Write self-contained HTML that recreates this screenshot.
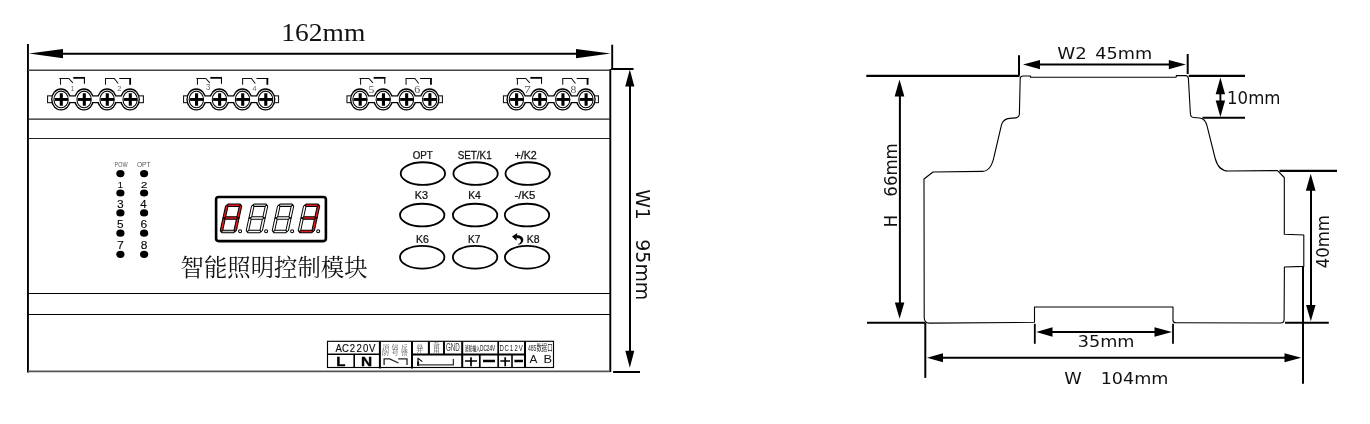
<!DOCTYPE html>
<html lang="zh">
<head>
<meta charset="utf-8">
<title>智能照明控制模块 尺寸图</title>
<style>
html,body{margin:0;padding:0;background:#fff;}
body{width:1370px;height:424px;overflow:hidden;}
svg{display:block;position:absolute;left:0;top:0;will-change:transform;}
text{white-space:pre;}
</style>
</head>
<body>
<svg width="1370" height="424" viewBox="0 0 1370 424">
<rect x="0" y="0" width="1370" height="424" fill="#fff"/>
<g id="left">
<line x1="27.95" y1="44" x2="27.95" y2="372.4" stroke="#000" stroke-width="1.9" />
<line x1="612.2" y1="44.7" x2="612.2" y2="70" stroke="#000" stroke-width="1.9" />
<line x1="610.3" y1="69" x2="610.3" y2="372" stroke="#000" stroke-width="1.9" />
<line x1="611.2" y1="69" x2="633.5" y2="69" stroke="#000" stroke-width="2" />
<line x1="613.1" y1="372" x2="640" y2="372" stroke="#000" stroke-width="2" />
<line x1="60" y1="53.8" x2="578" y2="53.8" stroke="#000" stroke-width="2" />
<polygon points="29.00,53.60 63.00,48.90 63.00,58.30" fill="#000" stroke="none" stroke-width="0"/>
<polygon points="610.50,53.60 576.00,58.20 576.00,49.00" fill="#000" stroke="none" stroke-width="0"/>
<line x1="630" y1="85" x2="630" y2="353" stroke="#000" stroke-width="2" />
<polygon points="629.80,69.60 634.40,86.60 625.20,86.60" fill="#000" stroke="none" stroke-width="0"/>
<polygon points="629.80,367.80 625.30,350.80 634.30,350.80" fill="#000" stroke="none" stroke-width="0"/>
<line x1="28" y1="70.2" x2="610" y2="70.2" stroke="#444" stroke-width="1.6" />
<line x1="28" y1="119.2" x2="610" y2="119.2" stroke="#222" stroke-width="1.2" />
<line x1="28" y1="138.5" x2="610" y2="138.5" stroke="#222" stroke-width="1.2" />
<line x1="28" y1="293.5" x2="610" y2="293.5" stroke="#000" stroke-width="1.1" />
<line x1="28" y1="314.5" x2="610" y2="314.5" stroke="#000" stroke-width="1.1" />
<line x1="28" y1="371.4" x2="610" y2="371.4" stroke="#555" stroke-width="1.8" />
<text transform="translate(281.26,40.90) scale(1.0491,1)" font-size="26.21" font-family='"Liberation Serif", "Noto Serif CJK SC", serif' fill="#111"  >162mm</text>
<text transform="translate(635.90,189.14) rotate(90) scale(0.9402,1)" font-size="20.14" font-family='"DejaVu Sans", "Liberation Sans", sans-serif' fill="#111"  >W1</text>
<text transform="translate(635.90,239.27) rotate(90) scale(0.9543,1)" font-size="19.86" font-family='"DejaVu Sans", "Liberation Sans", sans-serif' fill="#111"  >95mm</text>
<rect x="47.55" y="95.85" width="6" height="6.8" fill="#fff" stroke="#1a1a1a" stroke-width="1.1"/>
<rect x="137.40" y="95.85" width="6" height="6.8" fill="#fff" stroke="#1a1a1a" stroke-width="1.1"/>
<rect x="61.30" y="95.3" width="69.00" height="7.9" fill="#000"/>
<ellipse cx="61.00" cy="99.45" rx="9.9" ry="11.15" fill="#000"/>
<ellipse cx="84.00" cy="99.45" rx="9.9" ry="11.15" fill="#000"/>
<ellipse cx="107.00" cy="99.45" rx="9.9" ry="11.15" fill="#000"/>
<ellipse cx="130.00" cy="99.45" rx="9.9" ry="11.15" fill="#000"/>
<rect x="61.30" y="96.52" width="69.00" height="5.47" fill="#fff"/>
<ellipse cx="61.00" cy="99.45" rx="8.55" ry="9.8" fill="#fff"/>
<ellipse cx="84.00" cy="99.45" rx="8.55" ry="9.8" fill="#fff"/>
<ellipse cx="107.00" cy="99.45" rx="8.55" ry="9.8" fill="#fff"/>
<ellipse cx="130.00" cy="99.45" rx="8.55" ry="9.8" fill="#fff"/>
<ellipse cx="61.10" cy="99.45" rx="7.15" ry="8.3" fill="none" stroke="#000" stroke-width="1.05"/>
<path d="M54.80 99.45H68.00" stroke="#000" stroke-width="2.9" fill="none"/>
<path d="M61.30 93.25V105.75" stroke="#000" stroke-width="3.1" fill="none"/>
<ellipse cx="84.10" cy="99.45" rx="7.15" ry="8.3" fill="none" stroke="#000" stroke-width="1.05"/>
<path d="M77.80 99.45H91.00" stroke="#000" stroke-width="2.9" fill="none"/>
<path d="M84.30 93.25V105.75" stroke="#000" stroke-width="3.1" fill="none"/>
<ellipse cx="107.10" cy="99.45" rx="7.15" ry="8.3" fill="none" stroke="#000" stroke-width="1.05"/>
<path d="M100.80 99.45H114.00" stroke="#000" stroke-width="2.9" fill="none"/>
<path d="M107.30 93.25V105.75" stroke="#000" stroke-width="3.1" fill="none"/>
<ellipse cx="130.10" cy="99.45" rx="7.15" ry="8.3" fill="none" stroke="#000" stroke-width="1.05"/>
<path d="M123.80 99.45H137.00" stroke="#000" stroke-width="2.9" fill="none"/>
<path d="M130.30 93.25V105.75" stroke="#000" stroke-width="3.1" fill="none"/>
<path d="M60.50 84.8V78.5H68.80L72.90 82.9" stroke="#111" stroke-width="1.05" fill="none"/>
<path d="M59.40 78.5H61.40" stroke="#111" stroke-width="1.05" fill="none"/>
<path d="M73.30 77.85H85.00" stroke="#000" stroke-width="1.8" fill="none"/>
<path d="M84.45 77.1V83.8" stroke="#000" stroke-width="1.1" fill="none"/>
<path d="M105.50 84.8V78.5H114.30L118.20 83.5" stroke="#111" stroke-width="1.05" fill="none"/>
<path d="M119.30 78.5H131.10" stroke="#000" stroke-width="1.05" fill="none"/>
<path d="M130.15 78V84.8" stroke="#000" stroke-width="1.8" fill="none"/>
<text transform="translate(70.83,90.60) scale(0.8566,1)" font-size="7.25" font-family='"Liberation Sans", "Noto Sans CJK SC", sans-serif' fill="#666"  >1</text>
<text transform="translate(117.27,90.60) scale(1.0615,1)" font-size="7.14" font-family='"Liberation Sans", "Noto Sans CJK SC", sans-serif' fill="#666"  >2</text>
<rect x="183.55" y="95.85" width="6" height="6.8" fill="#fff" stroke="#1a1a1a" stroke-width="1.1"/>
<rect x="272.54" y="95.85" width="6" height="6.8" fill="#fff" stroke="#1a1a1a" stroke-width="1.1"/>
<rect x="196.55" y="95.3" width="69.24" height="7.9" fill="#000"/>
<ellipse cx="196.25" cy="99.45" rx="9.9" ry="11.15" fill="#000"/>
<ellipse cx="219.33" cy="99.45" rx="9.9" ry="11.15" fill="#000"/>
<ellipse cx="242.41" cy="99.45" rx="9.9" ry="11.15" fill="#000"/>
<ellipse cx="265.49" cy="99.45" rx="9.9" ry="11.15" fill="#000"/>
<rect x="196.55" y="96.52" width="69.24" height="5.47" fill="#fff"/>
<ellipse cx="196.25" cy="99.45" rx="8.55" ry="9.8" fill="#fff"/>
<ellipse cx="219.33" cy="99.45" rx="8.55" ry="9.8" fill="#fff"/>
<ellipse cx="242.41" cy="99.45" rx="8.55" ry="9.8" fill="#fff"/>
<ellipse cx="265.49" cy="99.45" rx="8.55" ry="9.8" fill="#fff"/>
<ellipse cx="196.35" cy="99.45" rx="7.15" ry="8.3" fill="none" stroke="#000" stroke-width="1.05"/>
<path d="M190.05 99.45H203.25" stroke="#000" stroke-width="2.9" fill="none"/>
<path d="M196.55 93.25V105.75" stroke="#000" stroke-width="3.1" fill="none"/>
<ellipse cx="219.43" cy="99.45" rx="7.15" ry="8.3" fill="none" stroke="#000" stroke-width="1.05"/>
<path d="M213.13 99.45H226.33" stroke="#000" stroke-width="2.9" fill="none"/>
<path d="M219.63 93.25V105.75" stroke="#000" stroke-width="3.1" fill="none"/>
<ellipse cx="242.51" cy="99.45" rx="7.15" ry="8.3" fill="none" stroke="#000" stroke-width="1.05"/>
<path d="M236.21 99.45H249.41" stroke="#000" stroke-width="2.9" fill="none"/>
<path d="M242.71 93.25V105.75" stroke="#000" stroke-width="3.1" fill="none"/>
<ellipse cx="265.59" cy="99.45" rx="7.15" ry="8.3" fill="none" stroke="#000" stroke-width="1.05"/>
<path d="M259.29 99.45H272.49" stroke="#000" stroke-width="2.9" fill="none"/>
<path d="M265.79 93.25V105.75" stroke="#000" stroke-width="3.1" fill="none"/>
<path d="M197.45 84.8V78.5H205.75L209.85 82.9" stroke="#111" stroke-width="1.05" fill="none"/>
<path d="M196.35 78.5H198.35" stroke="#111" stroke-width="1.05" fill="none"/>
<path d="M210.33 77.85H222.03" stroke="#000" stroke-width="1.8" fill="none"/>
<path d="M221.48 77.1V83.8" stroke="#000" stroke-width="1.1" fill="none"/>
<path d="M242.61 84.8V78.5H251.41L255.31 83.5" stroke="#111" stroke-width="1.05" fill="none"/>
<path d="M256.49 78.5H268.29" stroke="#000" stroke-width="1.05" fill="none"/>
<path d="M267.34 78V84.8" stroke="#000" stroke-width="1.8" fill="none"/>
<text transform="translate(205.88,90.30) scale(0.9825,1)" font-size="8.14" font-family='"Liberation Sans", "Noto Sans CJK SC", sans-serif' fill="#666"  >3</text>
<text transform="translate(252.46,90.50) scale(1.0038,1)" font-size="7.10" font-family='"Liberation Sans", "Noto Sans CJK SC", sans-serif' fill="#666"  >4</text>
<rect x="346.95" y="95.85" width="6" height="6.8" fill="#fff" stroke="#1a1a1a" stroke-width="1.1"/>
<rect x="436.44" y="95.85" width="6" height="6.8" fill="#fff" stroke="#1a1a1a" stroke-width="1.1"/>
<rect x="360.20" y="95.3" width="69.69" height="7.9" fill="#000"/>
<ellipse cx="359.90" cy="99.45" rx="9.9" ry="11.15" fill="#000"/>
<ellipse cx="383.13" cy="99.45" rx="9.9" ry="11.15" fill="#000"/>
<ellipse cx="406.36" cy="99.45" rx="9.9" ry="11.15" fill="#000"/>
<ellipse cx="429.59" cy="99.45" rx="9.9" ry="11.15" fill="#000"/>
<rect x="360.20" y="96.52" width="69.69" height="5.47" fill="#fff"/>
<ellipse cx="359.90" cy="99.45" rx="8.55" ry="9.8" fill="#fff"/>
<ellipse cx="383.13" cy="99.45" rx="8.55" ry="9.8" fill="#fff"/>
<ellipse cx="406.36" cy="99.45" rx="8.55" ry="9.8" fill="#fff"/>
<ellipse cx="429.59" cy="99.45" rx="8.55" ry="9.8" fill="#fff"/>
<ellipse cx="360.00" cy="99.45" rx="7.15" ry="8.3" fill="none" stroke="#000" stroke-width="1.05"/>
<path d="M353.70 99.45H366.90" stroke="#000" stroke-width="2.9" fill="none"/>
<path d="M360.20 93.25V105.75" stroke="#000" stroke-width="3.1" fill="none"/>
<ellipse cx="383.23" cy="99.45" rx="7.15" ry="8.3" fill="none" stroke="#000" stroke-width="1.05"/>
<path d="M376.93 99.45H390.13" stroke="#000" stroke-width="2.9" fill="none"/>
<path d="M383.43 93.25V105.75" stroke="#000" stroke-width="3.1" fill="none"/>
<ellipse cx="406.46" cy="99.45" rx="7.15" ry="8.3" fill="none" stroke="#000" stroke-width="1.05"/>
<path d="M400.16 99.45H413.36" stroke="#000" stroke-width="2.9" fill="none"/>
<path d="M406.66 93.25V105.75" stroke="#000" stroke-width="3.1" fill="none"/>
<ellipse cx="429.69" cy="99.45" rx="7.15" ry="8.3" fill="none" stroke="#000" stroke-width="1.05"/>
<path d="M423.39 99.45H436.59" stroke="#000" stroke-width="2.9" fill="none"/>
<path d="M429.89 93.25V105.75" stroke="#000" stroke-width="3.1" fill="none"/>
<path d="M360.60 84.8V78.5H368.90L373.00 82.9" stroke="#111" stroke-width="1.05" fill="none"/>
<path d="M359.50 78.5H361.50" stroke="#111" stroke-width="1.05" fill="none"/>
<path d="M373.63 77.85H385.33" stroke="#000" stroke-width="1.8" fill="none"/>
<path d="M384.78 77.1V83.8" stroke="#000" stroke-width="1.1" fill="none"/>
<path d="M406.06 84.8V78.5H414.86L418.76 83.5" stroke="#111" stroke-width="1.05" fill="none"/>
<path d="M420.09 78.5H431.89" stroke="#000" stroke-width="1.05" fill="none"/>
<path d="M430.94 78V84.8" stroke="#000" stroke-width="1.8" fill="none"/>
<text transform="translate(368.50,92.80) scale(1.1487,1)" font-size="10.23" font-family='"Liberation Serif", "Noto Serif CJK SC", serif' fill="#555"  >5</text>
<text transform="translate(414.23,92.80) scale(1.1683,1)" font-size="10.15" font-family='"Liberation Serif", "Noto Serif CJK SC", serif' fill="#555"  >6</text>
<rect x="503.45" y="95.85" width="6" height="6.8" fill="#fff" stroke="#1a1a1a" stroke-width="1.1"/>
<rect x="592.46" y="95.85" width="6" height="6.8" fill="#fff" stroke="#1a1a1a" stroke-width="1.1"/>
<rect x="516.60" y="95.3" width="69.51" height="7.9" fill="#000"/>
<ellipse cx="516.30" cy="99.45" rx="9.9" ry="11.15" fill="#000"/>
<ellipse cx="539.47" cy="99.45" rx="9.9" ry="11.15" fill="#000"/>
<ellipse cx="562.64" cy="99.45" rx="9.9" ry="11.15" fill="#000"/>
<ellipse cx="585.81" cy="99.45" rx="9.9" ry="11.15" fill="#000"/>
<rect x="516.60" y="96.52" width="69.51" height="5.47" fill="#fff"/>
<ellipse cx="516.30" cy="99.45" rx="8.55" ry="9.8" fill="#fff"/>
<ellipse cx="539.47" cy="99.45" rx="8.55" ry="9.8" fill="#fff"/>
<ellipse cx="562.64" cy="99.45" rx="8.55" ry="9.8" fill="#fff"/>
<ellipse cx="585.81" cy="99.45" rx="8.55" ry="9.8" fill="#fff"/>
<ellipse cx="516.40" cy="99.45" rx="7.15" ry="8.3" fill="none" stroke="#000" stroke-width="1.05"/>
<path d="M510.10 99.45H523.30" stroke="#000" stroke-width="2.9" fill="none"/>
<path d="M516.60 93.25V105.75" stroke="#000" stroke-width="3.1" fill="none"/>
<ellipse cx="539.57" cy="99.45" rx="7.15" ry="8.3" fill="none" stroke="#000" stroke-width="1.05"/>
<path d="M533.27 99.45H546.47" stroke="#000" stroke-width="2.9" fill="none"/>
<path d="M539.77 93.25V105.75" stroke="#000" stroke-width="3.1" fill="none"/>
<ellipse cx="562.74" cy="99.45" rx="7.15" ry="8.3" fill="none" stroke="#000" stroke-width="1.05"/>
<path d="M556.44 99.45H569.64" stroke="#000" stroke-width="2.9" fill="none"/>
<path d="M562.94 93.25V105.75" stroke="#000" stroke-width="3.1" fill="none"/>
<ellipse cx="585.91" cy="99.45" rx="7.15" ry="8.3" fill="none" stroke="#000" stroke-width="1.05"/>
<path d="M579.61 99.45H592.81" stroke="#000" stroke-width="2.9" fill="none"/>
<path d="M586.11 93.25V105.75" stroke="#000" stroke-width="3.1" fill="none"/>
<path d="M517.40 84.8V78.5H525.70L529.80 82.9" stroke="#111" stroke-width="1.05" fill="none"/>
<path d="M516.30 78.5H518.30" stroke="#111" stroke-width="1.05" fill="none"/>
<path d="M530.37 77.85H542.07" stroke="#000" stroke-width="1.8" fill="none"/>
<path d="M541.52 77.1V83.8" stroke="#000" stroke-width="1.1" fill="none"/>
<path d="M562.74 84.8V78.5H571.54L575.44 83.5" stroke="#111" stroke-width="1.05" fill="none"/>
<path d="M576.71 78.5H588.51" stroke="#000" stroke-width="1.05" fill="none"/>
<path d="M587.56 78V84.8" stroke="#000" stroke-width="1.8" fill="none"/>
<text transform="translate(524.15,92.80) scale(1.3187,1)" font-size="9.92" font-family='"Liberation Serif", "Noto Serif CJK SC", serif' fill="#555"  >7</text>
<text transform="translate(570.43,92.80) scale(1.1936,1)" font-size="9.77" font-family='"Liberation Serif", "Noto Serif CJK SC", serif' fill="#555"  >8</text>
<ellipse cx="120.4" cy="173.6" rx="4.1" ry="3.6" fill="#000"/>
<ellipse cx="120.4" cy="193.0" rx="4.1" ry="3.6" fill="#000"/>
<ellipse cx="120.4" cy="212.9" rx="4.1" ry="3.6" fill="#000"/>
<ellipse cx="120.4" cy="233.2" rx="4.1" ry="3.6" fill="#000"/>
<ellipse cx="120.4" cy="254.3" rx="4.1" ry="3.6" fill="#000"/>
<ellipse cx="144.1" cy="173.6" rx="4.1" ry="3.6" fill="#000"/>
<ellipse cx="144.1" cy="193.0" rx="4.1" ry="3.6" fill="#000"/>
<ellipse cx="144.1" cy="212.9" rx="4.1" ry="3.6" fill="#000"/>
<ellipse cx="144.1" cy="233.2" rx="4.1" ry="3.6" fill="#000"/>
<ellipse cx="144.1" cy="254.3" rx="4.1" ry="3.6" fill="#000"/>
<text transform="translate(114.57,167.20) scale(0.7909,1)" font-size="6.86" font-family='"Liberation Sans", "Noto Sans CJK SC", sans-serif' fill="#555"  >POW</text>
<text transform="translate(136.90,167.20) scale(0.9600,1)" font-size="6.86" font-family='"Liberation Sans", "Noto Sans CJK SC", sans-serif' fill="#555"  >OPT</text>
<text transform="translate(117.69,187.60) scale(0.9707,1)" font-size="9.71" font-family='"Liberation Sans", "Noto Sans CJK SC", sans-serif' fill="#000"  stroke="#000" stroke-width="0.1">1</text>
<text transform="translate(140.80,187.60) scale(1.2449,1)" font-size="9.71" font-family='"Liberation Sans", "Noto Sans CJK SC", sans-serif' fill="#000"  stroke="#000" stroke-width="0.1">2</text>
<text transform="translate(116.92,207.70) scale(1.1829,1)" font-size="10.14" font-family='"Liberation Sans", "Noto Sans CJK SC", sans-serif' fill="#000"  stroke="#000" stroke-width="0.1">3</text>
<text transform="translate(140.17,207.70) scale(1.1321,1)" font-size="10.14" font-family='"Liberation Sans", "Noto Sans CJK SC", sans-serif' fill="#000"  stroke="#000" stroke-width="0.1">4</text>
<text transform="translate(117.03,227.90) scale(1.1621,1)" font-size="10.14" font-family='"Liberation Sans", "Noto Sans CJK SC", sans-serif' fill="#000"  stroke="#000" stroke-width="0.1">5</text>
<text transform="translate(140.60,227.90) scale(1.1871,1)" font-size="10.14" font-family='"Liberation Sans", "Noto Sans CJK SC", sans-serif' fill="#000"  stroke="#000" stroke-width="0.1">6</text>
<text transform="translate(116.88,248.70) scale(1.2132,1)" font-size="10.14" font-family='"Liberation Sans", "Noto Sans CJK SC", sans-serif' fill="#000"  stroke="#000" stroke-width="0.1">7</text>
<text transform="translate(140.66,248.70) scale(1.1745,1)" font-size="10.14" font-family='"Liberation Sans", "Noto Sans CJK SC", sans-serif' fill="#000"  stroke="#000" stroke-width="0.1">8</text>
<rect x="216.1" y="197.0" width="109.8" height="44.1" rx="2.5" ry="2.5" fill="#fff" stroke="#000" stroke-width="2.6"/>
<g transform="translate(219.75,232.8) skewX(-12.2) translate(0,-28.9)">
<polygon points="2.30,0.00 13.90,0.00 15.05,1.15 13.70,2.50 2.50,2.50 1.15,1.15" fill="#e3191c" stroke="#000" stroke-width="1" stroke-linejoin="round"/>
<polygon points="2.30,28.90 13.90,28.90 15.05,27.75 13.70,26.40 2.50,26.40 1.15,27.75" fill="#bdbdbd" stroke="#000" stroke-width="1" stroke-linejoin="round"/>
<polygon points="0.75,14.15 2.50,12.90 13.70,12.90 15.45,14.15 13.70,15.40 2.50,15.40" fill="#e3191c" stroke="#000" stroke-width="1" stroke-linejoin="round"/>
<polygon points="0.00,2.30 1.15,1.15 2.50,2.50 2.50,12.90 0.75,14.15 0.00,14.15" fill="#e3191c" stroke="#000" stroke-width="1" stroke-linejoin="round"/>
<polygon points="0.00,14.15 0.75,14.15 2.50,15.40 2.50,26.40 1.15,27.75 0.00,26.60" fill="#e3191c" stroke="#000" stroke-width="1" stroke-linejoin="round"/>
<polygon points="16.20,2.30 15.05,1.15 13.70,2.50 13.70,12.90 15.45,14.15 16.20,14.15" fill="#e3191c" stroke="#000" stroke-width="1" stroke-linejoin="round"/>
<polygon points="16.20,14.15 15.45,14.15 13.70,15.40 13.70,26.40 15.05,27.75 16.20,26.60" fill="#e3191c" stroke="#000" stroke-width="1" stroke-linejoin="round"/>
</g>
<g transform="translate(245.75,232.8) skewX(-12.2) translate(0,-28.9)">
<polygon points="2.30,0.00 13.90,0.00 15.05,1.15 13.70,2.50 2.50,2.50 1.15,1.15" fill="#bdbdbd" stroke="#000" stroke-width="1" stroke-linejoin="round"/>
<polygon points="2.30,28.90 13.90,28.90 15.05,27.75 13.70,26.40 2.50,26.40 1.15,27.75" fill="#fff" stroke="#000" stroke-width="1" stroke-linejoin="round"/>
<polygon points="0.75,14.15 2.50,12.90 13.70,12.90 15.45,14.15 13.70,15.40 2.50,15.40" fill="#fff" stroke="#000" stroke-width="1" stroke-linejoin="round"/>
<polygon points="0.00,2.30 1.15,1.15 2.50,2.50 2.50,12.90 0.75,14.15 0.00,14.15" fill="#fff" stroke="#000" stroke-width="1" stroke-linejoin="round"/>
<polygon points="0.00,14.15 0.75,14.15 2.50,15.40 2.50,26.40 1.15,27.75 0.00,26.60" fill="#fff" stroke="#000" stroke-width="1" stroke-linejoin="round"/>
<polygon points="16.20,2.30 15.05,1.15 13.70,2.50 13.70,12.90 15.45,14.15 16.20,14.15" fill="#fff" stroke="#000" stroke-width="1" stroke-linejoin="round"/>
<polygon points="16.20,14.15 15.45,14.15 13.70,15.40 13.70,26.40 15.05,27.75 16.20,26.60" fill="#fff" stroke="#000" stroke-width="1" stroke-linejoin="round"/>
</g>
<g transform="translate(271.75,232.8) skewX(-12.2) translate(0,-28.9)">
<polygon points="2.30,0.00 13.90,0.00 15.05,1.15 13.70,2.50 2.50,2.50 1.15,1.15" fill="#bdbdbd" stroke="#000" stroke-width="1" stroke-linejoin="round"/>
<polygon points="2.30,28.90 13.90,28.90 15.05,27.75 13.70,26.40 2.50,26.40 1.15,27.75" fill="#fff" stroke="#000" stroke-width="1" stroke-linejoin="round"/>
<polygon points="0.75,14.15 2.50,12.90 13.70,12.90 15.45,14.15 13.70,15.40 2.50,15.40" fill="#fff" stroke="#000" stroke-width="1" stroke-linejoin="round"/>
<polygon points="0.00,2.30 1.15,1.15 2.50,2.50 2.50,12.90 0.75,14.15 0.00,14.15" fill="#fff" stroke="#000" stroke-width="1" stroke-linejoin="round"/>
<polygon points="0.00,14.15 0.75,14.15 2.50,15.40 2.50,26.40 1.15,27.75 0.00,26.60" fill="#fff" stroke="#000" stroke-width="1" stroke-linejoin="round"/>
<polygon points="16.20,2.30 15.05,1.15 13.70,2.50 13.70,12.90 15.45,14.15 16.20,14.15" fill="#fff" stroke="#000" stroke-width="1" stroke-linejoin="round"/>
<polygon points="16.20,14.15 15.45,14.15 13.70,15.40 13.70,26.40 15.05,27.75 16.20,26.60" fill="#fff" stroke="#000" stroke-width="1" stroke-linejoin="round"/>
</g>
<g transform="translate(297.75,232.8) skewX(-12.2) translate(0,-28.9)">
<polygon points="2.30,0.00 13.90,0.00 15.05,1.15 13.70,2.50 2.50,2.50 1.15,1.15" fill="#e3191c" stroke="#000" stroke-width="1" stroke-linejoin="round"/>
<polygon points="2.30,28.90 13.90,28.90 15.05,27.75 13.70,26.40 2.50,26.40 1.15,27.75" fill="#e3191c" stroke="#000" stroke-width="1" stroke-linejoin="round"/>
<polygon points="0.75,14.15 2.50,12.90 13.70,12.90 15.45,14.15 13.70,15.40 2.50,15.40" fill="#e3191c" stroke="#000" stroke-width="1" stroke-linejoin="round"/>
<polygon points="0.00,2.30 1.15,1.15 2.50,2.50 2.50,12.90 0.75,14.15 0.00,14.15" fill="#fff" stroke="#000" stroke-width="1" stroke-linejoin="round"/>
<polygon points="0.00,14.15 0.75,14.15 2.50,15.40 2.50,26.40 1.15,27.75 0.00,26.60" fill="#fff" stroke="#000" stroke-width="1" stroke-linejoin="round"/>
<polygon points="16.20,2.30 15.05,1.15 13.70,2.50 13.70,12.90 15.45,14.15 16.20,14.15" fill="#e3191c" stroke="#000" stroke-width="1" stroke-linejoin="round"/>
<polygon points="16.20,14.15 15.45,14.15 13.70,15.40 13.70,26.40 15.05,27.75 16.20,26.60" fill="#e3191c" stroke="#000" stroke-width="1" stroke-linejoin="round"/>
</g>
<circle cx="240.10" cy="231.3" r="1.5" fill="#fff" stroke="#000" stroke-width="1.05"/>
<circle cx="266.13" cy="231.3" r="1.5" fill="#fff" stroke="#000" stroke-width="1.05"/>
<circle cx="292.16" cy="231.3" r="1.5" fill="#fff" stroke="#000" stroke-width="1.05"/>
<circle cx="318.19" cy="231.3" r="1.5" fill="#fff" stroke="#000" stroke-width="1.05"/>
<text x="180.6" y="276.2" font-size="23.4" font-family='"Liberation Serif", "Noto Serif CJK SC", serif' fill="#111" text-anchor="start"  textLength="187" lengthAdjust="spacing">智能照明控制模块</text>
<ellipse cx="422.9" cy="173.6" rx="22.2" ry="11.35" fill="#fff" stroke="#000" stroke-width="1.8"/>
<ellipse cx="475.6" cy="173.6" rx="22.2" ry="11.35" fill="#fff" stroke="#000" stroke-width="1.8"/>
<ellipse cx="527.7" cy="173.6" rx="22.2" ry="11.35" fill="#fff" stroke="#000" stroke-width="1.8"/>
<ellipse cx="422.2" cy="215.1" rx="22.2" ry="11.35" fill="#fff" stroke="#000" stroke-width="1.8"/>
<ellipse cx="475.1" cy="215.1" rx="22.2" ry="11.35" fill="#fff" stroke="#000" stroke-width="1.8"/>
<ellipse cx="527.0" cy="215.1" rx="22.2" ry="11.35" fill="#fff" stroke="#000" stroke-width="1.8"/>
<ellipse cx="422.2" cy="257.2" rx="22.2" ry="11.35" fill="#fff" stroke="#000" stroke-width="1.8"/>
<ellipse cx="475.1" cy="257.2" rx="22.2" ry="11.35" fill="#fff" stroke="#000" stroke-width="1.8"/>
<ellipse cx="527.1" cy="257.2" rx="22.2" ry="11.35" fill="#fff" stroke="#000" stroke-width="1.8"/>
<text transform="translate(412.66,158.75) scale(0.9413,1)" font-size="10.36" font-family='"Liberation Sans", "Noto Sans CJK SC", sans-serif' fill="#111"  stroke="#111" stroke-width="0.25">OPT</text>
<text transform="translate(457.66,158.75) scale(0.9540,1)" font-size="10.36" font-family='"Liberation Sans", "Noto Sans CJK SC", sans-serif' fill="#111"  stroke="#111" stroke-width="0.25">SET/K1</text>
<text transform="translate(514.46,158.75) scale(1.0336,1)" font-size="10.36" font-family='"Liberation Sans", "Noto Sans CJK SC", sans-serif' fill="#111"  stroke="#111" stroke-width="0.25">+/K2</text>
<text transform="translate(414.73,199.40) scale(1.0097,1)" font-size="10.71" font-family='"Liberation Sans", "Noto Sans CJK SC", sans-serif' fill="#111"  stroke="#111" stroke-width="0.25">K3</text>
<text transform="translate(468.17,199.40) scale(0.9532,1)" font-size="10.87" font-family='"Liberation Sans", "Noto Sans CJK SC", sans-serif' fill="#111"  stroke="#111" stroke-width="0.25">K4</text>
<text transform="translate(514.49,199.40) scale(1.0514,1)" font-size="10.87" font-family='"Liberation Sans", "Noto Sans CJK SC", sans-serif' fill="#111"  stroke="#111" stroke-width="0.25">-/K5</text>
<text transform="translate(416.06,243.10) scale(0.9842,1)" font-size="10.71" font-family='"Liberation Sans", "Noto Sans CJK SC", sans-serif' fill="#111"  stroke="#111" stroke-width="0.25">K6</text>
<text transform="translate(467.94,243.10) scale(0.9284,1)" font-size="10.87" font-family='"Liberation Sans", "Noto Sans CJK SC", sans-serif' fill="#111"  stroke="#111" stroke-width="0.25">K7</text>
<text transform="translate(526.66,243.10) scale(0.9758,1)" font-size="10.71" font-family='"Liberation Sans", "Noto Sans CJK SC", sans-serif' fill="#111"  stroke="#111" stroke-width="0.25">K8</text>
<path d="M516.9 235.2C520.5 235.2 523.4 237.2 523.3 240C523.2 242.8 521 244.2 518.4 244.7L518.1 244C520.2 243.2 521 241.8 520.9 240.4C520.8 238.6 519 237.8 516.6 237.9Z" fill="#000"/>
<polygon points="512,236.6 517.3,233.1 516.4,240.8" fill="#000"/>
<rect x="327.5" y="341.3" width="226" height="26.19999999999999" fill="#fff" stroke="#000" stroke-width="1.15"/>
<line x1="379.9" y1="341.3" x2="379.9" y2="368.4" stroke="#000" stroke-width="2" />
<line x1="412" y1="341.3" x2="412" y2="368.4" stroke="#000" stroke-width="2" />
<line x1="462.2" y1="341.3" x2="462.2" y2="367.5" stroke="#000" stroke-width="2" />
<line x1="498.2" y1="341.3" x2="498.2" y2="367.5" stroke="#000" stroke-width="1.7" />
<line x1="525" y1="341.3" x2="525" y2="367.5" stroke="#000" stroke-width="2" />
<line x1="354.2" y1="354.5" x2="354.2" y2="367.5" stroke="#000" stroke-width="1.6" />
<line x1="428.9" y1="341.3" x2="428.9" y2="354.5" stroke="#000" stroke-width="2" />
<line x1="444" y1="341.3" x2="444" y2="354.5" stroke="#000" stroke-width="1.9" />
<line x1="479.8" y1="354.5" x2="479.8" y2="367.5" stroke="#000" stroke-width="1.7" />
<line x1="512" y1="354.5" x2="512" y2="367.5" stroke="#000" stroke-width="1.6" />
<line x1="327.4" y1="354.2" x2="379.9" y2="354.2" stroke="#000" stroke-width="1.5" />
<line x1="412" y1="354.6" x2="525" y2="354.6" stroke="#000" stroke-width="2" />
<text transform="scale(0.8359,1)" fill="#000" stroke="#000" stroke-width="0.12"><tspan x="401.43" y="352.40" font-size="11.48" font-family='"Liberation Sans", "Noto Sans CJK SC", sans-serif' >A</tspan><tspan x="409.22" y="352.40" font-size="11.48" font-family='"Liberation Sans", "Noto Sans CJK SC", sans-serif' >C</tspan><tspan x="418.51" y="352.40" font-size="11.48" font-family='"Liberation Sans", "Noto Sans CJK SC", sans-serif' >2</tspan><tspan x="426.59" y="352.40" font-size="11.48" font-family='"Liberation Sans", "Noto Sans CJK SC", sans-serif' >2</tspan><tspan x="434.39" y="352.40" font-size="11.48" font-family='"Liberation Sans", "Noto Sans CJK SC", sans-serif' >0</tspan><tspan x="441.45" y="352.40" font-size="11.48" font-family='"Liberation Sans", "Noto Sans CJK SC", sans-serif' >V</tspan></text>
<text transform="translate(336.27,366.25) scale(1.1105,1)" font-size="13.55" font-family='"Liberation Sans", "Noto Sans CJK SC", sans-serif' fill="#000" font-weight="bold" stroke="#000" stroke-width="0.4">L</text>
<text transform="translate(360.90,366.25) scale(1.1382,1)" font-size="13.55" font-family='"Liberation Sans", "Noto Sans CJK SC", sans-serif' fill="#000" font-weight="bold" stroke="#000" stroke-width="0.4">N</text>
<text transform="scale(1.1822,1)" fill="#555" ><tspan x="323.35" y="349.10" font-size="6.21" font-family='"Liberation Serif", "Noto Serif CJK SC", serif' >消</tspan><tspan x="323.13" y="355.10" font-size="6.21" font-family='"Liberation Serif", "Noto Serif CJK SC", serif' >防</tspan></text>
<text transform="scale(1.1373,1)" fill="#555" ><tspan x="344.29" y="349.11" font-size="6.11" font-family='"Liberation Serif", "Noto Serif CJK SC", serif' >信</tspan><tspan x="344.22" y="355.10" font-size="6.28" font-family='"Liberation Serif", "Noto Serif CJK SC", serif' >号</tspan></text>
<text transform="scale(1.1220,1)" fill="#555" ><tspan x="357.32" y="349.10" font-size="6.20" font-family='"Liberation Serif", "Noto Serif CJK SC", serif' >反</tspan><tspan x="357.35" y="355.10" font-size="6.20" font-family='"Liberation Serif", "Noto Serif CJK SC", serif' >馈</tspan></text>
<path d="M384.1 365.1V358.9H389.7L398.5 363M398.2 358.9H407V365.1" fill="none" stroke="#222" stroke-width="1.3"/>
<text transform="scale(1.4156,1)" fill="#555" ><tspan x="294.06" y="347.82" font-size="5.05" font-family='"Liberation Serif", "Noto Serif CJK SC", serif' >总</tspan><tspan x="294.09" y="352.41" font-size="4.86" font-family='"Liberation Serif", "Noto Serif CJK SC", serif' >开</tspan></text>
<text transform="scale(1.2314,1)" fill="#555" ><tspan x="351.59" y="347.36" font-size="5.53" font-family='"Liberation Serif", "Noto Serif CJK SC", serif' >备</tspan><tspan x="351.72" y="352.65" font-size="5.63" font-family='"Liberation Serif", "Noto Serif CJK SC", serif' >用</tspan></text>
<text transform="translate(445.94,351.00) scale(0.6188,1)" font-size="10.00" font-family='"Liberation Sans", "Noto Sans CJK SC", sans-serif' fill="#333"  >GND</text>
<path d="M418.1 361.6V365.9" fill="none" stroke="#000" stroke-width="2"/>
<path d="M418 357.8V362M418.5 358.6L422.3 361.6" fill="none" stroke="#000" stroke-width="1.15"/>
<path d="M418.2 364.8H453.4V359" fill="none" stroke="#333" stroke-width="1.3"/>
<text transform="scale(0.5269,1)" fill="#383838" stroke="#383838" stroke-width="0.15"><tspan x="882.20" y="350.88" font-size="7.26" font-family='"Liberation Sans", "Noto Sans CJK SC", sans-serif' >消防输入</tspan><tspan x="911.00" y="351.25" font-size="8.99" font-family='"Liberation Sans", "Noto Sans CJK SC", sans-serif' >DC24V</tspan></text>
<text transform="scale(0.6751,1)" fill="#222" ><tspan x="740.03" y="351.10" font-size="8.93" font-family='"Liberation Sans", "Noto Sans CJK SC", sans-serif' >D</tspan><tspan x="747.34" y="351.10" font-size="8.93" font-family='"Liberation Sans", "Noto Sans CJK SC", sans-serif' >C</tspan><tspan x="755.12" y="351.10" font-size="8.93" font-family='"Liberation Sans", "Noto Sans CJK SC", sans-serif' >1</tspan><tspan x="762.22" y="351.10" font-size="8.93" font-family='"Liberation Sans", "Noto Sans CJK SC", sans-serif' >2</tspan><tspan x="768.39" y="351.10" font-size="8.93" font-family='"Liberation Sans", "Noto Sans CJK SC", sans-serif' >V</tspan></text>
<text transform="scale(0.5936,1)" fill="#2a2a2a" ><tspan x="889.49" y="351.40" font-size="8.50" font-family='"Liberation Sans", "Noto Sans CJK SC", sans-serif' >485</tspan><tspan x="903.61" y="350.93" font-size="9.09" font-family='"Liberation Sans", "Noto Sans CJK SC", sans-serif' >数据口</tspan></text>
<path d="M465 361H477M471 357.2V366.3" stroke="#000" stroke-width="1.7" fill="none"/>
<path d="M483 361H495" stroke="#000" stroke-width="2.5" fill="none"/>
<path d="M500.3 361H510M505.2 357.2V366.3" stroke="#000" stroke-width="1.7" fill="none"/>
<path d="M514.4 361H523" stroke="#000" stroke-width="2.5" fill="none"/>
<text transform="translate(529.40,363.10) scale(1.1472,1)" font-size="10.29" font-family='"Liberation Sans", "Noto Sans CJK SC", sans-serif' fill="#111"  >A</text>
<text transform="translate(543.38,363.10) scale(1.2443,1)" font-size="10.29" font-family='"Liberation Sans", "Noto Sans CJK SC", sans-serif' fill="#111"  >B</text>
</g>
<g id="right">
<path d="M1176.3 77.2 H1030.4 V76 H1023 Q1020.3 76 1020.2 78.6 L1019.4 113.6 Q1019.3 117.6 1015.6 117.9 L1009.6 118.4 Q1003.6 118.9 1001.6 124.4 L994.2 156 Q991.2 171.2 982.4 171.4 L933 172 L924 179 L924.2 317.6 Q924.3 323.1 929.3 323.1 L1034.5 322.3 V307 H1173 V320.2 Q1173 322.8 1176 322.8 L1280.8 323 Q1284 323 1284.1 319.6 L1284.4 267 L1303.8 266.4 V235 L1284.3 234.2 V177.5 L1277.5 170.6 L1228 171 Q1218.6 170.9 1215.2 158.5 L1207.1 126.2 Q1205.2 118.4 1199.8 118 L1193.6 117.5 Q1190.6 117.3 1190.4 113.8 L1188.4 78.6 Q1188.3 75.6 1185.4 75.6 H1176.3 V77.2" fill="none" stroke="#000" stroke-width="1.1" stroke-linejoin="round"/>
<line x1="866.3" y1="75.9" x2="1019.5" y2="75.9" stroke="#000" stroke-width="2.1" />
<line x1="1188.8" y1="75.9" x2="1245" y2="75.9" stroke="#000" stroke-width="2.1" />
<line x1="1202.5" y1="117.8" x2="1245" y2="117.8" stroke="#000" stroke-width="2.1" />
<line x1="1279.5" y1="170.85" x2="1337" y2="170.85" stroke="#000" stroke-width="2.1" />
<line x1="867" y1="322.8" x2="925.5" y2="322.8" stroke="#000" stroke-width="2.1" />
<line x1="1285" y1="322.8" x2="1328.8" y2="322.8" stroke="#000" stroke-width="2.1" />
<line x1="1019" y1="55.2" x2="1019" y2="75.6" stroke="#000" stroke-width="2" />
<line x1="1187.7" y1="54" x2="1187.7" y2="74" stroke="#000" stroke-width="2" />
<line x1="925.3" y1="322.8" x2="925.3" y2="377.9" stroke="#000" stroke-width="2" />
<line x1="1303" y1="267" x2="1303" y2="383.8" stroke="#000" stroke-width="2" />
<line x1="1034.8" y1="323.8" x2="1034.8" y2="343.8" stroke="#000" stroke-width="1.8" />
<line x1="1173" y1="323.8" x2="1173" y2="343.8" stroke="#000" stroke-width="1.8" />
<line x1="1038" y1="64.6" x2="1170" y2="64.6" stroke="#000" stroke-width="2" />
<polygon points="1023.00,64.60 1040.00,60.00 1040.00,69.20" fill="#000" stroke="none" stroke-width="0"/>
<polygon points="1185.80,64.60 1168.80,69.20 1168.80,60.00" fill="#000" stroke="none" stroke-width="0"/>
<text transform="translate(1057.36,59.20) scale(1.1406,1)" font-size="15.95" font-family='"DejaVu Sans", "Liberation Sans", sans-serif' fill="#111"  >W2</text>
<text transform="translate(1095.32,59.20) scale(1.0949,1)" font-size="16.16" font-family='"DejaVu Sans", "Liberation Sans", sans-serif' fill="#111"  >45mm</text>
<line x1="1220.4" y1="92" x2="1220.4" y2="103" stroke="#000" stroke-width="1.9" />
<polygon points="1220.40,77.50 1225.10,94.30 1215.70,94.30" fill="#000" stroke="none" stroke-width="0"/>
<polygon points="1220.40,117.00 1215.70,100.40 1225.10,100.40" fill="#000" stroke="none" stroke-width="0"/>
<text transform="translate(1227.07,103.80) scale(0.9520,1)" font-size="17.43" font-family='"DejaVu Sans", "Liberation Sans", sans-serif' fill="#111"  >10mm</text>
<line x1="899.9" y1="95" x2="899.9" y2="304" stroke="#000" stroke-width="2" />
<polygon points="899.50,79.60 904.35,96.40 894.65,96.40" fill="#000" stroke="none" stroke-width="0"/>
<polygon points="899.60,318.80 894.85,302.50 904.35,302.50" fill="#000" stroke="none" stroke-width="0"/>
<text transform="translate(896.90,227.34) rotate(-90) scale(0.9207,1)" font-size="17.81" font-family='"DejaVu Sans", "Liberation Sans", sans-serif' fill="#111"  >H</text>
<text transform="translate(896.90,196.66) rotate(-90) scale(0.9453,1)" font-size="17.57" font-family='"DejaVu Sans", "Liberation Sans", sans-serif' fill="#111"  >66mm</text>
<line x1="1311.0" y1="188" x2="1311.0" y2="307" stroke="#000" stroke-width="2" />
<polygon points="1310.70,173.70 1315.55,190.70 1305.85,190.70" fill="#000" stroke="none" stroke-width="0"/>
<polygon points="1310.80,321.30 1306.05,305.00 1315.55,305.00" fill="#000" stroke="none" stroke-width="0"/>
<text transform="translate(1329.10,268.33) rotate(-90) scale(0.9338,1)" font-size="17.70" font-family='"DejaVu Sans", "Liberation Sans", sans-serif' fill="#111"  >40mm</text>
<line x1="1050" y1="332" x2="1156" y2="332" stroke="#000" stroke-width="2" />
<polygon points="1036.20,332.00 1052.50,327.25 1052.50,336.75" fill="#000" stroke="none" stroke-width="0"/>
<polygon points="1172.00,332.00 1154.50,336.75 1154.50,327.25" fill="#000" stroke="none" stroke-width="0"/>
<text transform="translate(1077.78,346.60) scale(1.1237,1)" font-size="15.68" font-family='"DejaVu Sans", "Liberation Sans", sans-serif' fill="#111"  >35mm</text>
<line x1="941" y1="357.8" x2="1286" y2="357.8" stroke="#000" stroke-width="2" />
<polygon points="927.00,357.80 943.00,353.30 943.00,362.30" fill="#000" stroke="none" stroke-width="0"/>
<polygon points="1301.30,357.80 1284.50,362.30 1284.50,353.30" fill="#000" stroke="none" stroke-width="0"/>
<text transform="translate(1064.18,383.60) scale(1.1054,1)" font-size="16.03" font-family='"DejaVu Sans", "Liberation Sans", sans-serif' fill="#111"  >W</text>
<text transform="translate(1100.66,383.60) scale(1.1131,1)" font-size="15.81" font-family='"DejaVu Sans", "Liberation Sans", sans-serif' fill="#111"  >104mm</text>
</g>
</svg>
</body>
</html>
